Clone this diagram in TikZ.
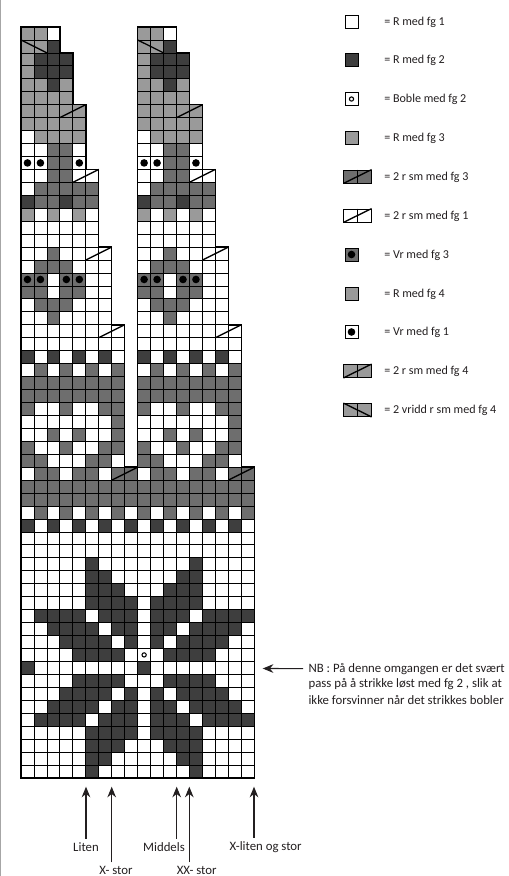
\documentclass[tikz,border=0pt]{standalone}
\usepackage{fontspec}
\setmainfont{Carlito}
\usetikzlibrary{arrows.meta}
\definecolor{ink}{HTML}{231F20}
\definecolor{fgto}{HTML}{3E3E3E}
\definecolor{fgtre}{HTML}{6E6E6E}
\definecolor{fgfire}{HTML}{9A9A9A}
\tikzset{
  rute/.style={black,line width=0.6pt},
  omriss/.style={black,line width=1.1pt,line join=miter},
  sm/.style={black,line width=1pt},
  leggtekst/.style={font=\fontsize{9.05}{11}\selectfont,color=ink,anchor=west,inner sep=0pt},
  nbtekst/.style={font=\fontsize{9.6}{11}\selectfont,color=ink,anchor=west,inner sep=0pt},
  merke/.style={font=\fontsize{9.6}{11}\selectfont,color=ink,inner sep=2.5pt},
  pil/.style={ink,line width=0.8pt,-{Stealth[length=8pt,width=6.5pt]}},
  leggen/.style={draw=black,line width=0.7pt,minimum width=9.7pt,minimum height=9.7pt,inner sep=0pt},
  leggto/.style={draw=black,line width=0.7pt,minimum width=20.5pt,minimum height=9.7pt,inner sep=0pt}
}
\begin{document}
\begin{tikzpicture}[x=0.75pt,y=-0.75pt]
  \useasboundingbox (0,0) rectangle (508,876);
  \fill[gray!70] (0,0) rectangle (1.3,876);
  \begin{scope}[shift={(21,27)},x=9.72pt,y=-9.71pt]
    % de to smale feltene
    \foreach \p in {0,9}{
      \foreach \r/\cols in {0/{0,1},1/{0,1},2/{0},3/{0},4/{0,1,3},5/{0,1,2,3},6/{0,1,2,3,4},7/{0,1,2,3,4},8/{1,2,3,4},14/{0,2,4}}{
        \foreach \c in \cols {\fill[fgfire] (\p+\c,\r) rectangle ++(1,1);}}
      \foreach \r/\cols in {9/{2,3},10/{2,3},11/{2,3},12/{1,2,3,4,5},13/{1,2,4,5},17/{2},18/{1,2,3},19/{0,1,3,4},20/{0,1,3,4},21/{1,2,3},22/{2},26/{1,3,5,7},27/{0,...,7},28/{0,...,7},29/{0,3,6,7},30/{7},31/{2,4,7},32/{0,3,6,7},33/{0,1,5,6}}{
        \foreach \c in \cols {\fill[fgtre] (\p+\c,\r) rectangle ++(1,1);}}
      \foreach \r/\cols in {1/{2},2/{1,2,3},3/{1,2,3},4/{2},13/{0,3},25/{0,2,4,6}}{
        \foreach \c in \cols {\fill[fgto] (\p+\c,\r) rectangle ++(1,1);}}
      \foreach \r/\n/\w in {0/2/3,2/6/4,6/11/5,11/17/6,17/23/7,23/34/8}{
        \foreach \y in {\r,...,\n}{\draw[rute] (\p,\y) -- (\p+\w,\y);}
        \foreach \x in {1,...,\w}{\draw[rute] (\p+\x,\r) -- (\p+\x,\n);}}
      \foreach \r/\c in {1/0}{\draw[sm] (\p+\c,\r) -- ++(2,1);}
      \foreach \r/\c in {6/3,11/4,17/5,23/6,34/7}{\draw[sm] (\p+\c,\r+1) -- ++(2,-1);}
      \foreach \r/\c in {10/0,10/1,10/4,19/0,19/1,19/3,19/4}{\fill[black] (\p+\c+0.5,\r+0.5) circle (2.85pt);}
    }
    % det brede feltet
    \foreach \r/\cols in {34/{1,2,4,5,7,8,10,11,13,14,16,17},35/{0,...,17},36/{0,...,17},37/{1,3,...,17}}{
      \foreach \c in \cols {\fill[fgtre] (\c,\r) rectangle ++(1,1);}}
    \foreach \r/\cols in {38/{0,2,...,16},41/{5,13},42/{5,6,12,13},43/{5,6,7,11,12,13},44/{5,6,7,8,10,11,12,13},45/{1,2,3,4,6,7,8,10,11,12,14,15,16,17},46/{2,3,4,5,7,8,10,11,13,14,15,16},47/{3,4,5,6,8,10,12,13,14,15},48/{4,5,6,7,11,12,13,14},49/{0,9},50/{4,5,6,7,11,12,13,14},51/{3,4,5,6,8,10,12,13,14,15},52/{2,3,4,5,7,8,10,11,13,14,15,16},53/{1,2,3,4,6,7,8,10,11,12,14,15,16,17},54/{5,6,7,8,10,11,12,13},55/{5,6,7,11,12,13},56/{5,6,12,13},57/{5,13}}{
      \foreach \c in \cols {\fill[fgto] (\c,\r) rectangle ++(1,1);}}
    \foreach \y in {34,...,58}{\draw[rute] (0,\y) -- (18,\y);}
    \foreach \x in {1,...,17}{\draw[rute] (\x,34) -- (\x,58);}
    \foreach \c in {7,16}{\draw[sm] (\c,35) -- ++(2,-1);}
    \draw[black,line width=0.8pt] (9.5,48.5) circle (1.6pt);
    \draw[omriss] (0,0) -- (3,0) -- (3,2) -- (4,2) -- (4,6) -- (5,6) -- (5,11) -- (6,11) -- (6,17) -- (7,17) -- (7,23) -- (8,23) -- (8,34) -- (9,34) -- (9,0) -- (12,0) -- (12,2) -- (13,2) -- (13,6) -- (14,6) -- (14,11) -- (15,11) -- (15,17) -- (16,17) -- (16,23) -- (17,23) -- (17,34) -- (18,34) -- (18,58) -- (0,58) -- cycle;
  \end{scope}
  % forklaring
  \node[leggen] (rfg1) at (351.5,21.5) {};
  \node[leggen,fill=fgto] (rfg2) at (351.5,60) {};
  \node[leggen] (boble) at (351.5,99) {};
  \node[leggen,fill=fgfire] (rfg3) at (351.5,138) {};
  \node[leggto,fill=fgtre] (smfg3) at (357.5,176.5) {};
  \node[leggto] (smfg1) at (357.5,215.5) {};
  \node[leggen,fill=fgtre] (vrfg3) at (351.5,254.5) {};
  \node[leggen,fill=fgfire] (rfg4) at (351.5,293.5) {};
  \node[leggen] (vrfg1) at (351.5,332) {};
  \node[leggto,fill=fgfire] (smfg4) at (357.5,371) {};
  \node[leggto,fill=fgfire] (vrismfg4) at (357.5,410) {};
  \draw[black,line width=0.8pt] (boble) circle (1.6pt);
  \fill[black] (vrfg3) circle (2.85pt);
  \fill[black] (vrfg1) circle (2.85pt);
  \foreach \s in {smfg3,smfg1,smfg4}{
    \draw[sm] (\s.south west) -- (\s.north east);
    \draw[rute] (\s.north) -- (\s.south);}
  \draw[sm] (vrismfg4.north west) -- (vrismfg4.south east);
  \draw[rute] (vrismfg4.north) -- (vrismfg4.south);
  \foreach \y/\txt in {22/= R med fg 1,60/= R med fg 2,99/= Boble med fg 2,138/= R med fg 3,177/= 2 r sm med fg 3,216/= 2 r sm med fg 1,255/= Vr med fg 3,294/= R med fg 4,332/= Vr med fg 1,371/= 2 r sm med fg 4,410/= 2 vridd r sm med fg 4}{
    \node[leggtekst] at (384,\y) {\txt};}
  % merknad
  \coordinate (nbtip) at (262.7,668.5);
  \node[nbtekst,inner xsep=4pt] (nblinje) at (303,668.7) {NB : På denne omgangen er det svært};
  \node[nbtekst] (passlinje) at (308.3,684.5) {pass på å strikke løst med fg 2 , slik at};
  \node[nbtekst] (ikkelinje) at (308.3,700) {ikke forsvinner når det strikkes bobler};
  \draw[pil] (nblinje) -- (nbtip);
  % storrelser
  \coordinate (litentip) at (86,786.7);
  \coordinate (xstortip) at (111.7,786.7);
  \coordinate (middelstip) at (176.7,786.7);
  \coordinate (xxstortip) at (189.3,786.7);
  \coordinate (xlitentip) at (254,786.7);
  \node[merke] (liten) at (86,847) {Liten};
  \node[merke] (middels) at (164,847) {Middels};
  \node[merke] (xliten) at (265.7,847) {X-liten og stor};
  \node[merke] (xstor) at (116,870) {X- stor};
  \node[merke] (xxstor) at (196.7,870) {XX- stor};
  \draw[pil] (liten) -- (litentip);
  \draw[pil] (xstor.north -| xstortip) -- (xstortip);
  \draw[pil] (middels.north -| middelstip) -- (middelstip);
  \draw[pil] (xxstor.north -| xxstortip) -- (xxstortip);
  \draw[pil] (xliten.north -| xlitentip) -- (xlitentip);
\end{tikzpicture}
\end{document}
